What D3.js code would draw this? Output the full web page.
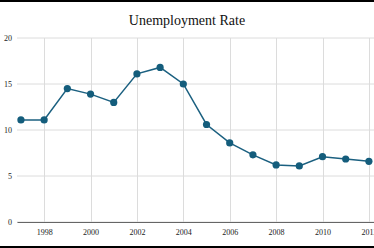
<!DOCTYPE html>
<html>
<head>
<meta charset="utf-8">
<script src="https://cdn.jsdelivr.net/npm/d3@7"></script>
<style>
  html, body { margin: 0; padding: 0; background: #000; overflow: hidden; }
  #chart { position: absolute; left: 0; top: 2px; width: 374px; height: 244px; background: #fff; }
  text { font-family: "Liberation Serif", "DejaVu Serif", serif; }
</style>
</head>
<body>
<div id="chart"></div>
<script>
const years = [1997, 1998, 1999, 2000, 2001, 2002, 2003, 2004, 2005, 2006, 2007, 2008, 2009, 2010, 2011, 2012];
const rates = [11.1, 11.1, 14.5, 13.9, 13.0, 16.1, 16.8, 15.0, 10.6, 8.6, 7.3, 6.2, 6.1, 7.1, 6.85, 6.6];
const xTicks = [1998, 2000, 2002, 2004, 2006, 2008, 2010, 2012];
const yTicks = [0, 5, 10, 15, 20];
const title = "Unemployment Rate";

const width = 374, height = 244;
const margin = { top: 36, right: 0, bottom: 24, left: 17 };

const svg = d3.select("#chart")
    .append("svg")
    .attr("width", width)
    .attr("height", height);

const x = d3.scaleLinear()
    .domain([1996.83, 2012.22])
    .range([margin.left, width - margin.right]);

const y = d3.scaleLinear()
    .domain([0, 20])
    .range([height - margin.bottom, margin.top]);

// horizontal grid
svg.append("g")
    .selectAll("line")
    .data(yTicks)
    .join("line")
    .attr("x1", margin.left)
    .attr("x2", width)
    .attr("y1", d => y(d))
    .attr("y2", d => y(d))
    .attr("stroke", "#dcdcdc")
    .attr("stroke-width", 1);

// vertical grid
svg.append("g")
    .selectAll("line")
    .data(xTicks)
    .join("line")
    .attr("x1", d => Math.round(x(d)) + 0.5)
    .attr("x2", d => Math.round(x(d)) + 0.5)
    .attr("y1", y(20))
    .attr("y2", y(0))
    .attr("stroke", "#dcdcdc")
    .attr("stroke-width", 1);

// y axis labels
svg.append("g")
    .attr("transform", `translate(${margin.left},0)`)
    .call(d3.axisLeft(y).tickValues(yTicks).tickSize(0).tickPadding(5))
    .call(g => g.select(".domain").remove())
    .call(g => g.selectAll("text")
        .attr("fill", "#222")
        .style("font-family", "Liberation Serif")
        .style("font-size", "8px"));

// x axis
svg.append("g")
    .attr("transform", `translate(0,${y(0)})`)
    .call(d3.axisBottom(x).tickValues(xTicks).tickFormat(d3.format("d")).tickSize(0).tickPadding(7))
    .call(g => g.select(".domain").attr("stroke", "#666").attr("stroke-width", 1.2))
    .call(g => g.selectAll("text")
        .attr("fill", "#222")
        .style("font-family", "Liberation Serif")
        .style("font-size", "8px"));

// line
const line = d3.line()
    .x((d, i) => x(years[i]))
    .y(d => y(d));

svg.append("path")
    .datum(rates)
    .attr("fill", "none")
    .attr("stroke", "#1b6080")
    .attr("stroke-width", 1.5)
    .attr("d", line);

svg.append("g")
    .selectAll("circle")
    .data(rates)
    .join("circle")
    .attr("cx", (d, i) => x(years[i]))
    .attr("cy", d => y(d))
    .attr("r", 3.6)
    .attr("fill", "#145d7c");

// title
svg.append("text")
    .attr("x", width / 2)
    .attr("y", 23)
    .attr("text-anchor", "middle")
    .attr("fill", "#111")
    .style("font-size", "14px")
    .text(title);
</script>
</body>
</html>
